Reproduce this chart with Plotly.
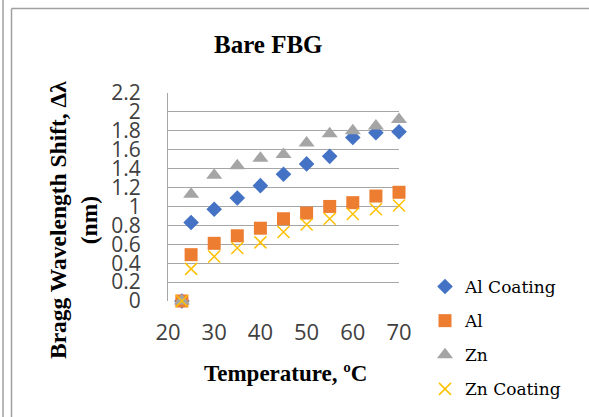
import plotly.graph_objects as go

temperature = [23, 25, 30, 35, 40, 45, 50, 55, 60, 65, 70]
al_coating = [0, 0.83, 0.97, 1.09, 1.22, 1.34, 1.45, 1.53, 1.73, 1.78, 1.79]
al = [0, 0.49, 0.61, 0.69, 0.77, 0.87, 0.93, 1.00, 1.04, 1.11, 1.15]
zn = [0, 1.13, 1.33, 1.43, 1.51, 1.55, 1.67, 1.77, 1.80, 1.85, 1.92]
zn_coating = [0, 0.34, 0.47, 0.56, 0.62, 0.73, 0.81, 0.87, 0.92, 0.97, 1.01]

y_ticks = [0, 0.2, 0.4, 0.6, 0.8, 1, 1.2, 1.4, 1.6, 1.8, 2, 2.2]
y_labels = ["0", "0.2", "0.4", "0.6", "0.8", "1", "1.2", "1.4", "1.6", "1.8", "2", "2.2"]
x_ticks = [20, 30, 40, 50, 60, 70]

W, H = 589, 417
L, R, T, B = 168, 399, 93, 301

fig = go.Figure()
series = [
    ("Al Coating", al_coating, dict(symbol="diamond", color="#4472C4", size=12)),
    ("Al", al, dict(symbol="square", color="#ED7D31", size=13)),
    ("Zn", zn, dict(symbol="triangle-up", color="#A5A5A5", size=14)),
    ("Zn Coating", zn_coating, dict(symbol="x-thin", color="#FFC000", size=12,
                                    line=dict(color="#FFC000", width=1.5))),
]
for i, (name, vals, mk) in enumerate(series):
    fig.add_trace(go.Scatter(x=temperature, y=vals, mode="markers", name=name,
                             marker=mk, legendgroup=f"g{i}", cliponaxis=False))

def px(xp):
    return (xp - L) / (R - L)

def py(yp):
    return (B - yp) / (B - T)

shapes = [
    dict(type="line", xref="paper", yref="paper", x0=px(3), x1=px(3), y0=py(0), y1=py(H),
         line=dict(color="#A0A0A0", width=1.5)),
    dict(type="line", xref="paper", yref="paper", x0=px(11.5), x1=px(11.5), y0=py(8.5), y1=py(H),
         line=dict(color="#A0A0A0", width=1.5)),
    dict(type="line", xref="paper", yref="paper", x0=px(11.5), x1=px(W), y0=py(8.5), y1=py(8.5),
         line=dict(color="#A0A0A0", width=1.5)),
]

annotations = [
    dict(text="<b>Bare FBG</b>", xref="paper", yref="paper", x=px(268), y=py(45),
         showarrow=False, font=dict(family="Liberation Serif", size=25, color="#000000"),
         xanchor="center", yanchor="middle"),
    dict(text="<b>Temperature, ºC</b>", xref="paper", yref="paper", x=px(285), y=py(373),
         showarrow=False, font=dict(family="Liberation Serif", size=23, color="#000000"),
         xanchor="center", yanchor="middle"),
    dict(text="<b>Bragg Wavelength Shift, Δλ<br>(nm)</b>", xref="paper", yref="paper",
         x=px(73), y=py(220), textangle=-90, showarrow=False,
         font=dict(family="Liberation Serif", size=23.5, color="#000000"),
         xanchor="center", yanchor="middle"),
]

fig.update_layout(
    width=W, height=H,
    margin=dict(l=L, r=W - R, t=T, b=H - B, autoexpand=False),
    paper_bgcolor="white", plot_bgcolor="white",
    showlegend=True,
    legend=dict(x=px(425), y=py(269), xanchor="left", yanchor="top",
                font=dict(family="DejaVu Serif", size=17, color="#000000"),
                tracegroupgap=9, itemwidth=30, bgcolor="rgba(0,0,0,0)"),
    shapes=shapes,
    annotations=annotations,
    xaxis=dict(range=[20, 70], tickvals=x_ticks, showgrid=False, zeroline=False,
               showline=False, ticks="", ticklabelstandoff=16,
               tickfont=dict(family="Open Sans", size=22, color="#404040")),
    yaxis=dict(range=[0, 2.2], tickvals=y_ticks, ticktext=y_labels, showgrid=True,
               gridcolor="#A6A6A6", gridwidth=1.2, zeroline=False,
               showline=True, linecolor="#A6A6A6", linewidth=1.2, ticks="",
               ticklabelstandoff=22,
               tickfont=dict(family="Open Sans", size=21, color="#404040")),
)

fig.write_html("out.html", config={"displayModeBar": False},
               post_script="document.body.style.margin='0';document.body.style.overflow='hidden';")
